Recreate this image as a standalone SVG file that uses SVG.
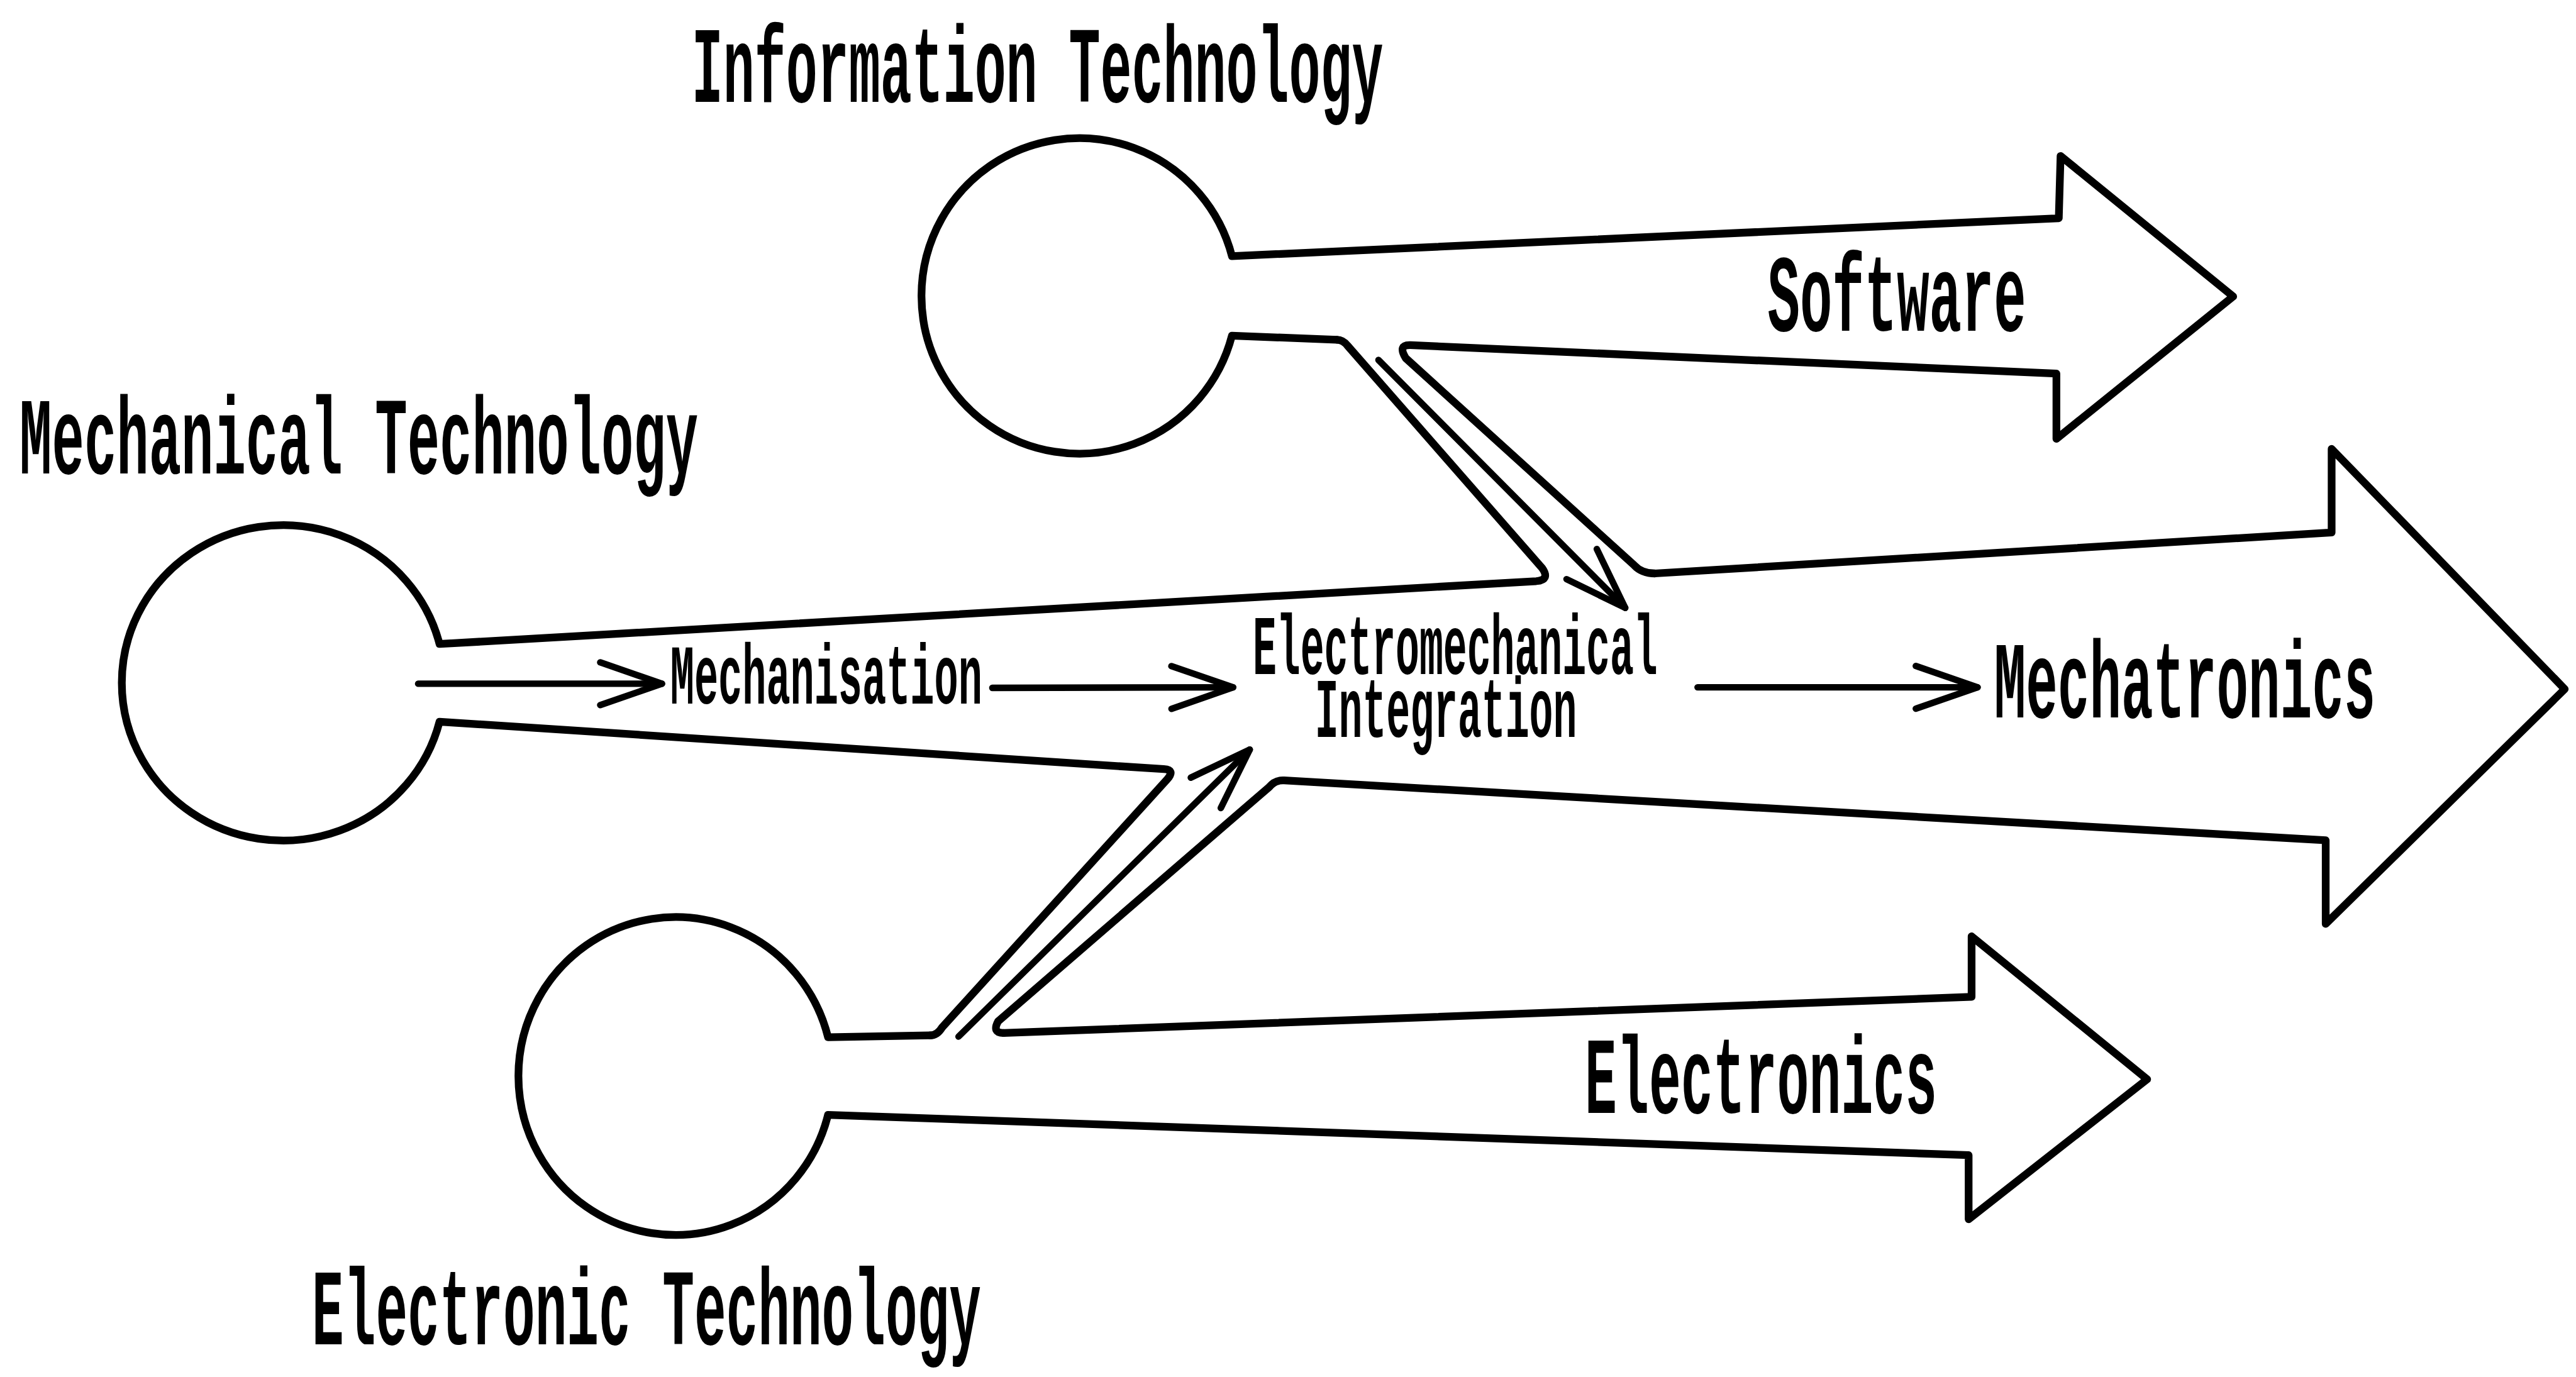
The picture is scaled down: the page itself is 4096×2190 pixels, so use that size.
<svg xmlns="http://www.w3.org/2000/svg" width="4096" height="2190" viewBox="0 0 4096 2190">
<style>
.ol{fill:none;stroke:#000;stroke-width:13;stroke-linejoin:round;stroke-linecap:round}
.cn{fill:none;stroke:#000;stroke-width:11;stroke-linecap:round;marker-end:url(#ah)}
.big{font-family:"Liberation Mono","DejaVu Sans Mono",monospace;font-weight:bold;font-size:184px;fill:#000}
.sm{font-family:"Liberation Mono","DejaVu Sans Mono",monospace;font-weight:bold;font-size:143px;fill:#000}
</style>
<defs>
<marker id="ah" markerUnits="userSpaceOnUse" orient="auto" viewBox="-130 -60 150 120" markerWidth="150" markerHeight="120" refX="0" refY="0" overflow="visible">
<path d="M -104,-36 L 0,0 L -104,36" fill="none" stroke="#000" stroke-width="11" stroke-linecap="round" stroke-linejoin="round"/>
</marker>
</defs>
<rect width="4096" height="2190" fill="#fff"/>
<g transform="scale(0.943127)">
<g id="information-technology">
<path class="ol" d="M 2254,573 L 2077,566 A 266 266 0 1 1 2077,432 L 3471,368 L 3474,263 L 3765,500 L 3467,740 L 3467,630 L 2378,582 Q 2356,581 2370,604 L 2755,953 Q 2768,967 2790,967"/>
<text class="big" transform="translate(1166,172) scale(0.4801,1)">Information Technology</text>
<text class="big" transform="translate(2980,558) scale(0.4937,1)">Software</text>
</g>
<g id="mechanical-technology">
<path class="ol" d="M 2254,573 Q 2264,573 2272,583 L 2600,958 Q 2614,978 2590,980 L 741,1086 A 272 266 0 1 0 741,1217 L 1962,1297 Q 1982,1298 1968,1314 L 1588,1733 Q 1580,1746 1568,1746"/>
<path class="ol" d="M 2790,967 L 3931,898 L 3931,757 L 4324,1162 L 3921,1558 L 3921,1417 L 2165,1316 Q 2150,1315 2140,1327 L 1683,1722 Q 1672,1742 1692,1742"/>
<text class="big" transform="translate(33,798) scale(0.4934,1)">Mechanical Technology</text>
<text class="big" transform="translate(3362,1210) scale(0.4854,1)">Mechatronics</text>
</g>
<g id="electronic-technology">
<path class="ol" d="M 1568,1746 L 1396,1749 A 265 268 0 1 0 1396,1880 L 3319,1948 L 3319,2056 L 3620,1820 L 3324,1579 L 3324,1681 L 1692,1742"/>
<text class="big" transform="translate(526,2267) scale(0.4865,1)">Electronic Technology</text>
<text class="big" transform="translate(2672,1877) scale(0.4891,1)">Electronics</text>
</g>
<g id="integration-labels">
<text class="sm" transform="translate(1130,1187) scale(0.4716,1)">Mechanisation</text>
<text class="sm" transform="translate(2112,0) scale(0.468,1)"><tspan x="0" y="1137">Electromechanical</tspan><tspan x="224" y="1243">Integration</tspan></text>
</g>
<g id="connectors">
<path class="cn" d="M 705,1153 L 1116,1153"/>
<path class="cn" d="M 1673,1160 L 2079,1159"/>
<path class="cn" d="M 2862,1159 L 3334,1159"/>
<path class="cn" d="M 2324,607 L 2740,1025"/>
<path class="cn" d="M 1616,1748 L 2107,1264"/>
</g>
</g>
</svg>
